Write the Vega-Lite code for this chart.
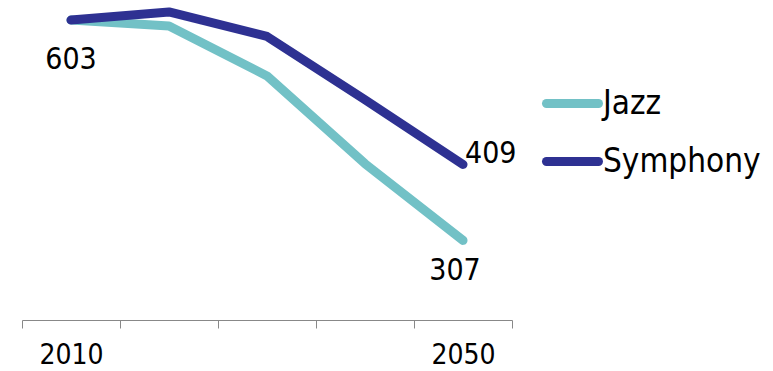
{
  "$schema": "https://vega.github.io/schema/vega-lite/v6.json",
  "width": 490,
  "height": 320,
  "autosize": {"type": "none"},
  "padding": {"left": 22, "top": 0, "right": 261, "bottom": 51},
  "background": "white",
  "config": {"view": {"stroke": null}, "font": "DejaVu Sans Condensed, Roboto, sans-serif"},
  "data": {
    "values": [
      {"year": "2010", "series": "Jazz", "value": 603},
      {"year": "2020", "series": "Jazz", "value": 595},
      {"year": "2030", "series": "Jazz", "value": 528},
      {"year": "2040", "series": "Jazz", "value": 410},
      {"year": "2050", "series": "Jazz", "value": 307},
      {"year": "2010", "series": "Symphony", "value": 603},
      {"year": "2020", "series": "Symphony", "value": 614},
      {"year": "2030", "series": "Symphony", "value": 581},
      {"year": "2040", "series": "Symphony", "value": 496},
      {"year": "2050", "series": "Symphony", "value": 409}
    ]
  },
  "encoding": {
    "x": {
      "field": "year",
      "type": "ordinal",
      "scale": {"type": "band", "paddingInner": 0, "paddingOuter": 0},
      "axis": {
        "title": null,
        "labelExpr": "datum.label == '2010' || datum.label == '2050' ? datum.label : ''",
        "labelAngle": 0,
        "tickBand": "extent",
        "tickSize": 8,
        "tickColor": "#888888",
        "domainColor": "#888888",
        "labelFontSize": 28,
        "labelColor": "black",
        "labelFont": "DejaVu Sans Condensed, Roboto, sans-serif",
        "labelPadding": 13,
        "grid": false
      }
    },
    "y": {
      "field": "value",
      "type": "quantitative",
      "scale": {"domain": [200, 630], "zero": false, "nice": false},
      "axis": null
    }
  },
  "layer": [
    {
      "mark": {"type": "line", "strokeWidth": 9, "strokeCap": "round", "strokeJoin": "round"},
      "encoding": {
        "color": {
          "field": "series",
          "type": "nominal",
          "scale": {"domain": ["Jazz", "Symphony"], "range": ["#72C1C6", "#2E3192"]},
          "legend": {
            "title": null,
            "orient": "none",
            "legendX": 520,
            "legendY": 73,
            "symbolType": "stroke",
            "symbolSize": 2704,
            "symbolStrokeWidth": 9,
            "labelFontSize": 33,
            "labelFont": "DejaVu Sans Condensed, Roboto, sans-serif",
            "labelColor": "black",
            "labelOffset": 0,
            "rowPadding": 9,
            "labelBaseline": "middle",
            "encode": {"symbols": {"update": {"strokeCap": {"value": "round"}}}}
          }
        }
      }
    },
    {
      "transform": [{"filter": "datum.year == '2010' && datum.series == 'Symphony'"}],
      "mark": {"type": "text", "fontSize": 30, "baseline": "alphabetic", "align": "center", "dy": 49, "color": "black"},
      "encoding": {"text": {"field": "value", "type": "quantitative"}}
    },
    {
      "transform": [{"filter": "datum.year == '2050' && datum.series == 'Symphony'"}],
      "mark": {"type": "text", "fontSize": 30, "baseline": "alphabetic", "align": "left", "dx": 2, "dy": -1, "color": "black"},
      "encoding": {"text": {"field": "value", "type": "quantitative"}}
    },
    {
      "transform": [{"filter": "datum.year == '2050' && datum.series == 'Jazz'"}],
      "mark": {"type": "text", "fontSize": 30, "baseline": "alphabetic", "align": "center", "dx": -8, "dy": 40, "color": "black"},
      "encoding": {"text": {"field": "value", "type": "quantitative"}}
    }
  ]
}
